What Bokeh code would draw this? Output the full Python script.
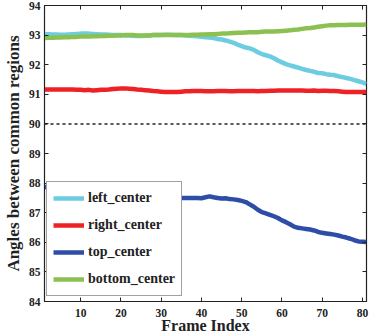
from bokeh.plotting import figure
from bokeh.models import Span, LinearAxis, FixedTicker, Range1d, Legend
from bokeh.embed import file_html
from bokeh.resources import INLINE

frames = list(range(1, 82))

left_center = [
    93.03, 93.03, 93.02, 93.02, 93.01, 93.01, 93.02, 93.03, 93.04, 93.05,
    93.05, 93.05, 93.04, 93.03, 93.02, 93.02, 93.01, 93.00, 93.00, 93.00,
    92.99, 92.99, 92.98, 92.97, 92.97, 92.98, 92.99, 93.00, 93.00, 93.00,
    93.01, 93.01, 93.00, 93.00, 93.00, 92.99, 92.98, 92.97, 92.96, 92.94,
    92.93, 92.92, 92.90, 92.87, 92.85, 92.82, 92.78, 92.74, 92.68, 92.63,
    92.58, 92.55, 92.50, 92.42, 92.36, 92.32, 92.28, 92.22, 92.14, 92.08,
    92.02, 91.98, 91.94, 91.90, 91.86, 91.82, 91.79, 91.76, 91.72, 91.71,
    91.68, 91.66, 91.65, 91.61, 91.58, 91.55, 91.52, 91.48, 91.44, 91.40, 91.35,
]

right_center = [
    91.16, 91.16, 91.16, 91.16, 91.16, 91.16, 91.16, 91.16, 91.15, 91.15,
    91.14, 91.15, 91.13, 91.14, 91.15, 91.15, 91.16, 91.18, 91.19, 91.20,
    91.20, 91.19, 91.18, 91.16, 91.15, 91.14, 91.13, 91.11, 91.10, 91.09,
    91.08, 91.08, 91.08, 91.08, 91.09, 91.10, 91.10, 91.11, 91.11, 91.11,
    91.10, 91.10, 91.10, 91.11, 91.11, 91.11, 91.10, 91.10, 91.11, 91.11,
    91.11, 91.11, 91.11, 91.10, 91.11, 91.11, 91.12, 91.12, 91.13, 91.13,
    91.13, 91.13, 91.13, 91.13, 91.13, 91.12, 91.12, 91.13, 91.11, 91.12,
    91.12, 91.11, 91.11, 91.10, 91.09, 91.08, 91.08, 91.08, 91.08, 91.08, 91.08,
]

top_center = [
    87.87, 87.86, 87.85, 87.84, 87.83, 87.82, 87.81, 87.80, 87.79, 87.78,
    87.76, 87.74, 87.72, 87.70, 87.68, 87.66, 87.64, 87.62, 87.60, 87.58,
    87.57, 87.56, 87.55, 87.54, 87.53, 87.52, 87.52, 87.51, 87.51, 87.50,
    87.50, 87.50, 87.50, 87.50, 87.50, 87.50, 87.50, 87.50, 87.50, 87.49,
    87.52, 87.55, 87.52, 87.50, 87.48, 87.49, 87.46, 87.45, 87.43, 87.40,
    87.36, 87.28, 87.20, 87.10, 87.02, 86.98, 86.93, 86.88, 86.82, 86.74,
    86.68, 86.61, 86.53, 86.49, 86.47, 86.45, 86.43, 86.40, 86.35, 86.32,
    86.30, 86.28, 86.26, 86.23, 86.19, 86.16, 86.12, 86.07, 86.03, 86.02, 86.01,
]

bottom_center = [
    92.90, 92.91, 92.91, 92.92, 92.92, 92.93, 92.93, 92.94, 92.94, 92.95,
    92.95, 92.95, 92.96, 92.96, 92.97, 92.97, 92.98, 92.98, 92.99, 92.99,
    93.00, 93.00, 93.00, 92.99, 92.99, 92.99, 92.99, 93.00, 93.00, 93.00,
    93.00, 93.00, 93.00, 93.00, 93.00, 93.00, 93.00, 93.01, 93.01, 93.02,
    93.02, 93.03, 93.03, 93.04, 93.05, 93.05, 93.06, 93.07, 93.08, 93.08,
    93.09, 93.10, 93.10, 93.10, 93.11, 93.12, 93.12, 93.12, 93.13, 93.14,
    93.15, 93.16, 93.18, 93.19, 93.21, 93.23, 93.24, 93.26, 93.28, 93.30,
    93.32, 93.33, 93.33, 93.34, 93.34, 93.34, 93.35, 93.35, 93.35, 93.35, 93.36,
]

series_names = ["left_center", "right_center", "top_center", "bottom_center"]
series_values = [left_center, right_center, top_center, bottom_center]
series_colors = ["#6DCDE0", "#EE2224", "#2E4DA7", "#8CC152"]

x_ticks = [10, 20, 30, 40, 50, 60, 70, 80]
y_ticks = [84, 85, 86, 87, 88, 89, 90, 91, 92, 93, 94]
reference_angle = 90

FONT = "Liberation Serif"

p = figure(width=370, height=336, output_backend="svg", toolbar_location=None,
           x_range=Range1d(1, 81), y_range=Range1d(84, 94),
           min_border_left=0, min_border_right=4, min_border_top=5, min_border_bottom=0)

p.xgrid.visible = False
p.ygrid.visible = False
p.outline_line_color = "#222222"
p.outline_line_width = 1.2
p.background_fill_color = "white"
p.border_fill_color = "white"

p.add_layout(Span(location=reference_angle, dimension="width", line_color="#222222",
                  line_dash="3 3", line_width=1.5))

renderers = []
for name, vals, col in zip(series_names, series_values, series_colors):
    r = p.line(frames, vals, line_color=col, line_width=4.5)
    renderers.append((name, r))

legend = Legend(items=[(n, [r]) for n, r in renderers], location=(2, 5))
legend.margin = 0
legend.padding = 6
legend.spacing = 7
legend.glyph_width = 31
legend.glyph_height = 20
legend.label_height = 20
legend.label_standoff = 4
legend.label_text_font = FONT
legend.label_text_font_style = "bold"
legend.label_text_font_size = "14px"
legend.label_text_color = "#222222"
legend.border_line_color = "#444444"
legend.border_line_width = 1.5
legend.background_fill_alpha = 1.0
p.add_layout(legend, "center")

for ax in (p.xaxis[0], p.yaxis[0]):
    ax.major_tick_in = 4
    ax.major_tick_out = 0
    ax.minor_tick_line_color = None
    ax.axis_line_color = "#222222"
    ax.major_tick_line_color = "#222222"
    ax.major_label_text_font = FONT
    ax.major_label_text_font_style = "bold"
    ax.major_label_text_font_size = "11.5px"
    ax.major_label_text_color = "#222222"
    ax.axis_label_text_font = FONT
    ax.axis_label_text_font_style = "bold"
    ax.axis_label_text_color = "#222222"

p.xaxis[0].ticker = FixedTicker(ticks=x_ticks)
p.yaxis[0].ticker = FixedTicker(ticks=y_ticks)
p.xaxis[0].axis_label = "Frame Index"
p.xaxis[0].axis_label_text_font_size = "16px"
p.xaxis[0].axis_label_standoff = -3
p.xaxis[0].major_label_standoff = 7
p.yaxis[0].axis_label = "Angles between common regions"
p.yaxis[0].axis_label_text_font_size = "17px"
p.yaxis[0].axis_label_standoff = 3
p.yaxis[0].major_label_standoff = 4

top_ax = LinearAxis(ticker=FixedTicker(ticks=x_ticks),
                    major_label_overrides={t: "" for t in x_ticks},
                    major_label_text_font_size="1px",
                    major_tick_in=4, major_tick_out=0, minor_tick_line_color=None,
                    axis_line_color=None, major_tick_line_color="#222222",
                    major_label_standoff=0)
right_ax = LinearAxis(ticker=FixedTicker(ticks=y_ticks),
                      major_label_overrides={t: "" for t in y_ticks},
                      major_label_text_font_size="1px",
                      major_tick_in=4, major_tick_out=0, minor_tick_line_color=None,
                      axis_line_color=None, major_tick_line_color="#222222",
                      major_label_standoff=0)
p.add_layout(top_ax, "above")
p.add_layout(right_ax, "right")

open("out.html", "w").write(file_html(p, INLINE))
